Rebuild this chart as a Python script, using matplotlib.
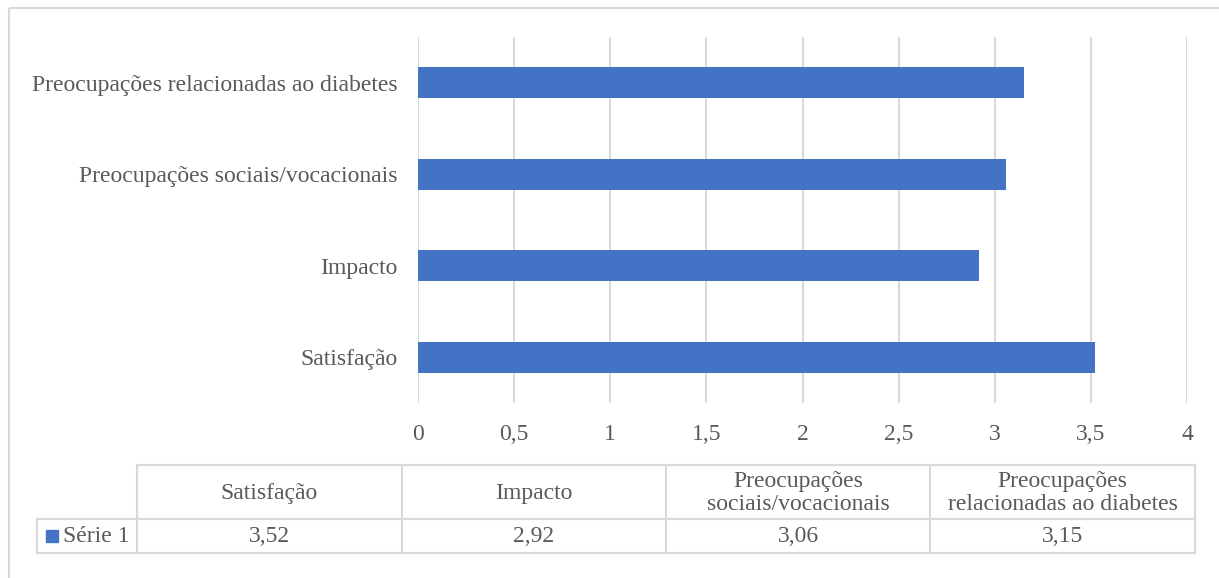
import matplotlib.pyplot as plt
from matplotlib.patches import Rectangle

plt.rcParams['font.family'] = 'serif'
plt.rcParams['font.serif'] = ['Liberation Serif', 'Times New Roman', 'DejaVu Serif']

# dados
categorias = ['Satisfação', 'Impacto', 'Preocupações sociais/vocacionais',
              'Preocupações relacionadas ao diabetes']
cabecalhos = ['Satisfação', 'Impacto', 'Preocupações\nsociais/vocacionais',
              'Preocupações\nrelacionadas ao diabetes']
serie1 = [3.52, 2.92, 3.06, 3.15]
nome_serie = 'Série 1'
ticks_x = [0, 0.5, 1, 1.5, 2, 2.5, 3, 3.5, 4]

AZUL = '#4472C4'
CINZA_TXT = '#595959'
CINZA_LINHA = '#D9D9D9'
FS = 17

W, H = 1219, 578
fig = plt.figure(figsize=(W / 100, H / 100), dpi=100)

# camada de fundo em pixels (moldura e tabela)
bg = fig.add_axes([0, 0, 1, 1])
bg.set_xlim(0, W)
bg.set_ylim(H, 0)
bg.axis('off')
bg.add_patch(Rectangle((9, 8), W + 20, H + 20, fill=False,
                       edgecolor=CINZA_LINHA, linewidth=1.5))

# grafico de barras
x0, x1 = 418, 1187
y0, y1 = 37, 403
ax = fig.add_axes([x0 / W, 1 - y1 / H, (x1 - x0) / W, (y1 - y0) / H])
pos = list(range(len(categorias)))
ax.barh(pos, serie1, height=0.34, color=AZUL, zorder=3)
ax.set_xlim(0, 4)
ax.set_ylim(-0.5, len(categorias) - 0.5)
ax.set_xticks(ticks_x)
ax.set_xticklabels([f'{t:g}'.replace('.', ',') for t in ticks_x])
ax.set_yticks(pos)
ax.set_yticklabels(categorias)
ax.grid(axis='x', color=CINZA_LINHA, linewidth=1.5, zorder=0)
for s in ax.spines.values():
    s.set_visible(False)
ax.tick_params(axis='both', length=0, labelsize=FS, colors=CINZA_TXT)
ax.tick_params(axis='x', pad=15)
ax.tick_params(axis='y', pad=15)

# tabela de dados
col_x = [37, 137, 402, 666, 930, 1195]
lin_y = [465, 519, 553]
lw = 1.5
# linhas horizontais
bg.plot([col_x[1], col_x[-1]], [lin_y[0]] * 2, color=CINZA_LINHA, lw=lw)
bg.plot([col_x[0], col_x[-1]], [lin_y[1]] * 2, color=CINZA_LINHA, lw=lw)
bg.plot([col_x[0], col_x[-1]], [lin_y[2]] * 2, color=CINZA_LINHA, lw=lw)
# linhas verticais
bg.plot([col_x[0]] * 2, [lin_y[1], lin_y[2]], color=CINZA_LINHA, lw=lw)
for cx in col_x[1:]:
    bg.plot([cx] * 2, [lin_y[0], lin_y[2]], color=CINZA_LINHA, lw=lw)

for i, (cab, v) in enumerate(zip(cabecalhos, serie1)):
    cx = (col_x[i + 1] + col_x[i + 2]) / 2
    bg.text(cx, (lin_y[0] + lin_y[1]) / 2 + 1, cab, ha='center', va='center',
            fontsize=FS, color=CINZA_TXT, linespacing=1.15)
    bg.text(cx, (lin_y[1] + lin_y[2]) / 2, f'{v:.2f}'.replace('.', ','),
            ha='center', va='center', fontsize=FS, color=CINZA_TXT)

# legenda da serie
ly = (lin_y[1] + lin_y[2]) / 2
bg.add_patch(Rectangle((46, ly - 6), 12, 12, color=AZUL))
bg.text(63, ly, nome_serie, ha='left', va='center', fontsize=FS, color=CINZA_TXT)

fig.savefig('out.png', dpi=100)
